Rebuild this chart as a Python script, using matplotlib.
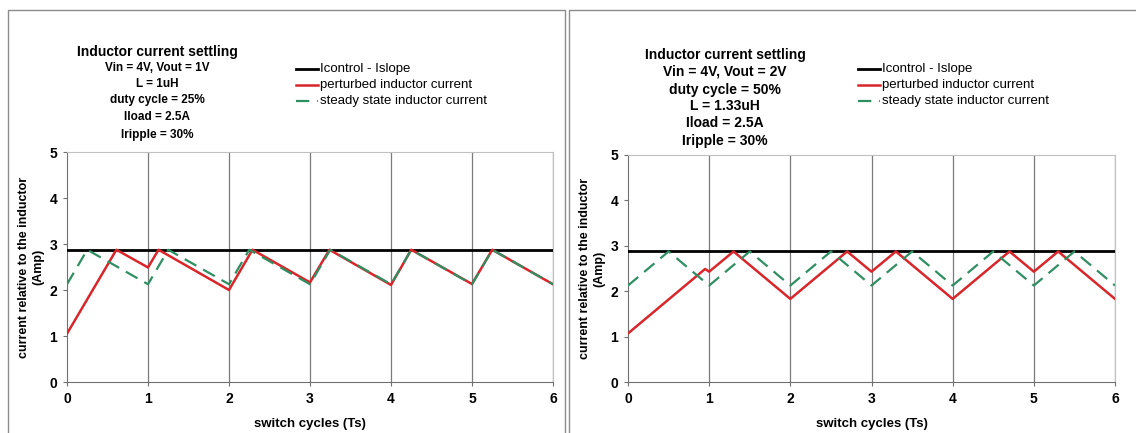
import matplotlib
matplotlib.use("Agg")
import matplotlib.pyplot as plt
from matplotlib.patches import Rectangle

plt.rcParams["font.family"] = ["Liberation Sans", "DejaVu Sans"]

W, H = 1136, 433

# shared
icontrol_x = [0, 6]
icontrol_y = [2.875, 2.875]

# left panel: duty cycle 25%
left_ss_x = [0, 0.25, 1, 1.25, 2, 2.25, 3, 3.25, 4, 4.25, 5, 5.25, 6]
left_ss_y = [2.125, 2.875, 2.125, 2.875, 2.125, 2.875, 2.125, 2.875, 2.125, 2.875, 2.125, 2.875, 2.125]
left_red_x = [0, 0.61, 1.0, 1.13, 2.0, 2.29, 3.0, 3.24, 4.0, 4.25, 5.0, 5.25, 6.0]
left_red_y = [1.05, 2.875, 2.49, 2.875, 2.0, 2.875, 2.165, 2.875, 2.11, 2.875, 2.13, 2.875, 2.125]
left_text = ["Vin = 4V, Vout = 1V", "L = 1uH", "duty cycle = 25%", "Iload = 2.5A", "Iripple = 30%"]

# right panel: duty cycle 50%
right_ss_x = [0, 0.5, 1, 1.5, 2, 2.5, 3, 3.5, 4, 4.5, 5, 5.5, 6]
right_ss_y = [2.125, 2.875, 2.125, 2.875, 2.125, 2.875, 2.125, 2.875, 2.125, 2.875, 2.125, 2.875, 2.125]
right_red_x = [0, 0.95, 1.0, 1.3, 2.0, 2.7, 3.0, 3.3, 4.0, 4.7, 5.0, 5.3, 6.0]
right_red_y = [1.07, 2.49, 2.43, 2.875, 1.83, 2.875, 2.43, 2.875, 1.83, 2.875, 2.43, 2.875, 1.83]
right_text = ["Vin = 4V, Vout = 2V", "duty cycle = 50%", "L = 1.33uH", "Iload = 2.5A", "Iripple = 30%"]

legend_labels = ["Icontrol - Islope", "perturbed inductor current", "steady state inductor current"]

RED = "#d8262b"
GREEN = "#2f8f62"

fig = plt.figure(figsize=(W / 100, H / 100), dpi=100)


def fx(px):
    return px / W


def fy(py):
    return 1 - py / H


def panel(frame_x0, frame_x1, ax_x0, ax_x1, ax_top, ax_bot, ss_x, ss_y, red_x, red_y,
          text_lines, text_cx, title_y, line_ys, sub_size, leg_x, leg_ys):
    fig.add_artist(Rectangle((fx(frame_x0), fy(H + 5)), fx(frame_x1 - frame_x0), fy(10) - fy(H + 5),
                             transform=fig.transFigure, fill=False, ec="#8c8c8c", lw=1))
    ax = fig.add_axes([fx(ax_x0), fy(ax_bot), fx(ax_x1 - ax_x0), (ax_bot - ax_top) / H])
    ax.plot(icontrol_x, icontrol_y, color="black", lw=2, zorder=3)
    ax.plot(red_x, red_y, color=RED, lw=1.8, zorder=4)
    ax.plot(ss_x, ss_y, color=GREEN, lw=1.6, ls=(0, (6, 3.5)), zorder=5)
    ax.set_xlim(0, 6)
    ax.set_ylim(0, 5)
    ax.set_xticks(range(7))
    ax.set_yticks(range(6))
    for x in range(1, 7):
        ax.axvline(x, color="#7a7a7a", lw=0.9, zorder=1)
    for s in ["top", "right"]:
        ax.spines[s].set_color("#c0c0c0")
    for s in ["left", "bottom"]:
        ax.spines[s].set_color("#707070")
    ax.tick_params(length=3, width=0.8, color="#707070", labelsize=10, pad=4)
    for lab in ax.get_xticklabels() + ax.get_yticklabels():
        lab.set_fontweight("bold")
    ax.set_xlabel("switch cycles (Ts)", fontsize=9.5, fontweight="bold", labelpad=9)
    ax.set_ylabel("current relative to the inductor\n(Amp)", fontsize=9, fontweight="bold",
                  linespacing=1.25, labelpad=4)

    fig.text(fx(text_cx), fy(title_y), "Inductor current settling", ha="center", va="center",
             fontsize=10, fontweight="bold")
    for t, y in zip(text_lines, line_ys):
        fig.text(fx(text_cx), fy(y), t, ha="center", va="center", fontsize=sub_size, fontweight="bold")

    styles = [dict(color="black", lw=2), dict(color=RED, lw=1.8), dict(color=GREEN, lw=1.6, ls=(0, (6, 3.5)))]
    for lbl, st, y in zip(legend_labels, styles, leg_ys):
        fig.add_artist(plt.Line2D([fx(leg_x), fx(leg_x + 22)], [fy(y), fy(y)], transform=fig.transFigure, **st))
        fig.text(fx(leg_x + 24), fy(y), lbl, ha="left", va="center", fontsize=9.5)
    return ax


panel(8, 565, 67, 553, 152, 382, left_ss_x, left_ss_y, left_red_x, left_red_y,
      left_text, 157, 52, [68, 84, 100, 117, 135], 8.5, 296, [69, 85, 101])
panel(569, 1140, 628, 1115, 155, 382, right_ss_x, right_ss_y, right_red_x, right_red_y,
      right_text, 725, 55, [72, 90, 106, 123, 141], 10, 858, [69, 85, 101])

fig.savefig("out.png", dpi=100)
